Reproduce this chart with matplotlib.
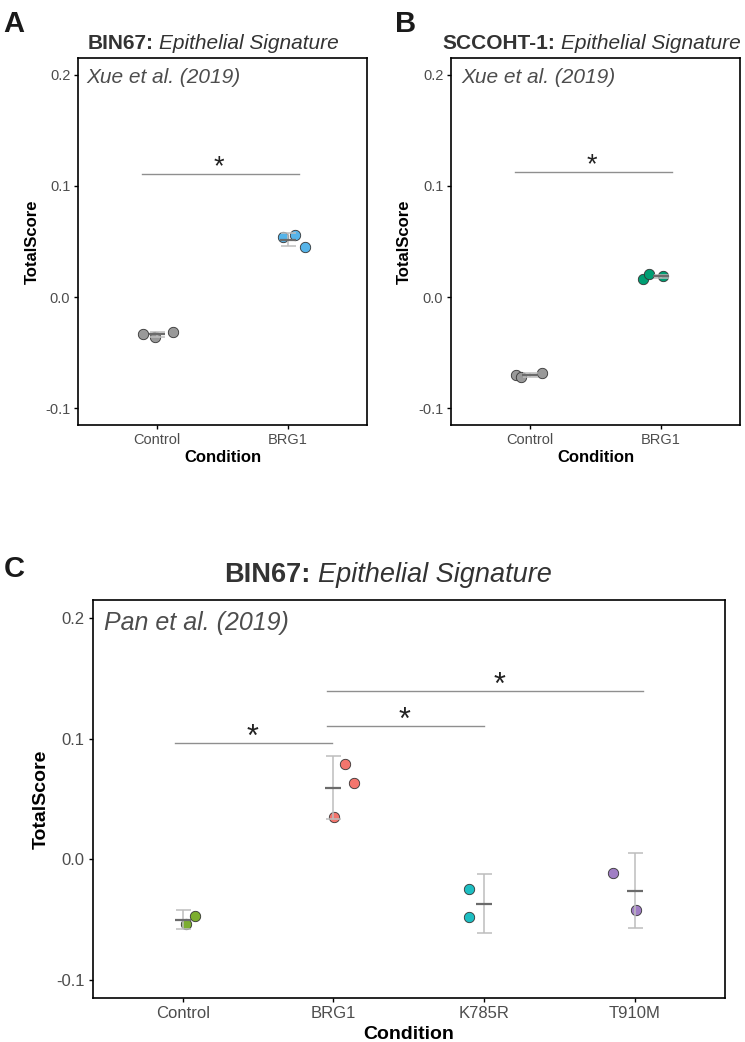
import matplotlib
matplotlib.use('Agg')
import matplotlib.pyplot as plt

plt.rcParams['font.family'] = ['Liberation Sans', 'DejaVu Sans']

# ---- data ----
# Panel A: BIN67, Xue et al. (2019)
a_conditions = ['Control', 'BRG1']
a_points = [[-0.0333, -0.0360, -0.0315], [0.0540, 0.0559, 0.0450]]
a_jitter = [[-0.107, -0.015, 0.122], [-0.038, 0.053, 0.130]]
a_mean = [-0.0336, 0.0516]
a_lo = [-0.0358, 0.0462]
a_hi = [-0.0314, 0.0574]
a_colors = ['#999999', '#56B4E9']
a_sig = [(0.886, 2.08, 0.111, 1.47)]

# Panel B: SCCOHT-1, Xue et al. (2019)
b_conditions = ['Control', 'BRG1']
b_points = [[-0.0696, -0.0718, -0.0682], [0.0162, 0.0207, 0.0189]]
b_jitter = [[-0.107, -0.069, 0.089], [-0.137, -0.092, 0.015]]
b_mean = [-0.0699, 0.0186]
b_lo = [-0.0715, 0.0175]
b_hi = [-0.0683, 0.0197]
b_colors = ['#999999', '#009E73']
b_sig = [(0.886, 2.08, 0.1126, 1.47)]

# Panel C: BIN67, Pan et al. (2019)
c_conditions = ['Control', 'BRG1', 'K785R', 'T910M']
c_points = [[-0.0533, -0.0473], [0.0794, 0.0630, 0.0351],
            [-0.0243, -0.0481], [-0.0113, -0.0423]]
c_jitter = [[0.022, 0.078], [0.076, 0.136, 0.003],
            [-0.097, -0.101], [-0.146, 0.011]]
c_mean = [-0.0506, 0.0591, -0.0371, -0.0265]
c_lo = [-0.0580, 0.0337, -0.0614, -0.0570]
c_hi = [-0.0423, 0.0857, -0.0119, 0.0050]
c_colors = ['#7CAE2F', '#F3756D', '#1DBEC2', '#A07EC4']
c_sig = [(0.946, 1.99, 0.0964, 1.46),
         (1.954, 3.00, 0.1103, 2.47),
         (1.954, 4.053, 0.1396, 3.10)]

W, H = 745, 1042
fig = plt.figure(figsize=(W / 100, H / 100), dpi=100)


def px_axes(l, t, r, b):
    return fig.add_axes([l / W, 1 - b / H, (r - l) / W, (b - t) / H])


def panel(ax, conditions, points, jitter, mean, lo, hi, colors, sig,
          source, fs):
    x = list(range(1, len(conditions) + 1))
    for i in range(len(conditions)):
        xs = [x[i] + j for j in jitter[i]]
        ax.scatter(xs, points[i], s=56, color=colors[i], edgecolor='#333333',
                   linewidth=0.6, zorder=2)
    yerr = [[m - l for m, l in zip(mean, lo)], [h - m for m, h in zip(mean, hi)]]
    ax.errorbar(x, mean, yerr=yerr, fmt='none', ecolor='#BDBDBD',
                elinewidth=1.1, capsize=5.4, capthick=1.1, zorder=3)
    ax.plot(x, mean, ls='none', marker='_', ms=11, mew=1.6,
            color='#6b6b6b', zorder=4)
    for x1, x2, y, xs in sig:
        ax.plot([x1, x2], [y, y], color='#8f8f8f', lw=1.0)
        ax.annotate('*', (xs, y), xytext=(0, fs['star_off']),
                    textcoords='offset points', ha='center', va='baseline',
                    fontsize=fs['star'], color='#222222')
    ax.set_xlim(0.4, len(conditions) + 0.6)
    ax.set_ylim(-0.115, 0.215)
    ax.set_yticks([-0.1, 0.0, 0.1, 0.2])
    ax.set_yticklabels(['-0.1', '0.0', '0.1', '0.2'])
    ax.set_xticks(x)
    ax.set_xticklabels(conditions)
    ax.tick_params(length=3, width=1, color='black', labelcolor='#4D4D4D',
                   labelsize=fs['tick'], pad=2.5)
    for s in ax.spines.values():
        s.set_linewidth(1.2)
        s.set_color('black')
    ax.set_xlabel('Condition', fontsize=fs['label'], fontweight='bold')
    ax.set_ylabel('TotalScore', fontsize=fs['label'], fontweight='bold')
    ax.text(fs['src_x'], fs['src_y'], source, transform=ax.transAxes,
            fontsize=fs['src'], style='italic', color='#4D4D4D',
            va='baseline', ha='left')


fs_ab = dict(tick=10.5, label=12, src=15, star=19.5, star_off=-0.5,
             src_x=0.028, src_y=0.932)
fs_c = dict(tick=12, label=14, src=18, star=22, star_off=-2,
            src_x=0.018, src_y=0.925)

ax_a = px_axes(78, 58, 367, 425)
panel(ax_a, a_conditions, a_points, a_jitter, a_mean, a_lo, a_hi, a_colors,
      a_sig, 'Xue et al. (2019)', fs_ab)
ax_a.yaxis.set_label_coords(-0.131, 0.5)
ax_a.xaxis.set_label_coords(0.5, -0.068)

ax_b = px_axes(451, 58, 740, 425)
fs_b = dict(fs_ab, src_x=0.035)
panel(ax_b, b_conditions, b_points, b_jitter, b_mean, b_lo, b_hi, b_colors,
      b_sig, 'Xue et al. (2019)', fs_b)
ax_b.yaxis.set_label_coords(-0.135, 0.5)
ax_b.xaxis.set_label_coords(0.5, -0.068)

ax_c = px_axes(92.5, 600, 725, 998)
panel(ax_c, c_conditions, c_points, c_jitter, c_mean, c_lo, c_hi, c_colors,
      c_sig, 'Pan et al. (2019)', fs_c)
ax_c.yaxis.set_label_coords(-0.067, 0.5)
ax_c.xaxis.set_label_coords(0.5, -0.070)

# panel letters
for letter, xp, yp in [('A', 3, 32), ('B', 395, 32), ('C', 4, 577)]:
    fig.text(xp / W, 1 - yp / H, letter, fontsize=21, fontweight='bold',
             va='baseline', ha='left', color='#1a1a1a')


# titles: bold cell line + italic signature name
def mixed_title(xc, base, bold, italic, size):
    t1 = fig.text(0, 1 - base / H, bold, fontsize=size, fontweight='bold',
                  color='#333333', va='baseline', ha='left')
    t2 = fig.text(0, 1 - base / H, italic, fontsize=size, style='italic',
                  color='#333333', va='baseline', ha='left')
    fig.canvas.draw()
    r = fig.canvas.get_renderer()
    w1 = t1.get_window_extent(r).width
    w2 = t2.get_window_extent(r).width
    gap = 0.28 * size * 100 / 72
    x0 = xc - (w1 + gap + w2) / 2
    t1.set_x(x0 / W)
    t2.set_x((x0 + w1 + gap) / W)


mixed_title(213, 49, 'BIN67:', 'Epithelial Signature', 15)
mixed_title(592, 49, 'SCCOHT-1:', 'Epithelial Signature', 15)
mixed_title(388, 582, 'BIN67:', 'Epithelial Signature', 19.5)

fig.savefig('out.png', dpi=100)
